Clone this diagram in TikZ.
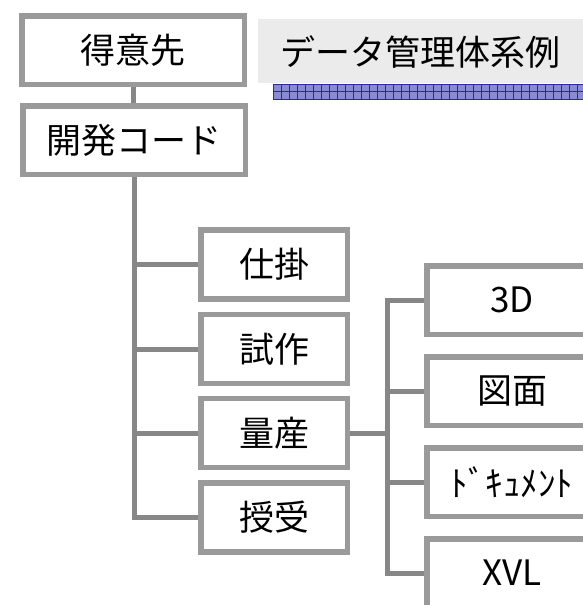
\documentclass[tikz,border=0pt]{standalone}
\usepackage{fontspec}
\newfontfamily\jp{Noto Sans CJK JP}
\definecolor{boxgray}{HTML}{9A9A9A}
\definecolor{linegray}{HTML}{878787}
\definecolor{titlegray}{HTML}{EBEBEB}
\definecolor{stripefill}{HTML}{8A8AD2}
\definecolor{stripeline}{HTML}{2A2AA0}
\tikzset{
  lbl/.style={font=\jp\fontsize{35}{35}\selectfont, text=black},
  boxa/.style={lbl, draw=boxgray, fill=white, line width=5.5pt, inner sep=0pt,
    minimum width=222.5pt, minimum height=68.5pt},
  boxb/.style={lbl, draw=boxgray, fill=white, line width=5.5pt, inner sep=0pt,
    minimum width=146.5pt, minimum height=69pt},
  boxc/.style={lbl, draw=boxgray, fill=white, line width=5.5pt, inner sep=0pt,
    minimum width=170.5pt, minimum height=68.5pt},
  conn/.style={draw=linegray, line width=5pt, line join=miter}
}
\begin{document}
\begin{tikzpicture}[x=1pt, y=-1pt]
\useasboundingbox (0,0) rectangle (583,605);
\clip (0,0) rectangle (583,605);
% title
\fill[titlegray] (258,19) rectangle (600,83);
\node[lbl, anchor=west, inner sep=0pt] (title) at (280,52) {データ管理体系例};
% stripe
\fill[stripefill] (273,84) rectangle (600,100);
\foreach \i in {0,...,41} {
  \draw[stripeline, line width=0.8pt] ({273+8*\i},84) -- ({273+8*\i},100);
}
\draw[stripeline, line width=0.8pt] (273,84.5) -- (600,84.5);
\draw[stripeline, line width=0.8pt] (273,91.5) -- (600,91.5);
\draw[stripeline, line width=0.8pt] (273,99.5) -- (600,99.5);
% connectors first (behind boxes)
\coordinate (sub) at (387.5,433);
% boxes
\node[boxa] (tok) at (133,50) {得意先};
\node[boxa] (kai) at (134,140) {開発コード};
\node[boxb] (shi) at (274,264.5) {仕掛};
\node[boxb] (shisaku) at (274,349) {試作};
\node[boxb] (ryo) at (274,433) {量産};
\node[boxb] (ju) at (274,517.5) {授受};
\node[boxc] (d3) at (512,300) {3D};
\node[boxc] (zu) at (512,391) {図面};
\node[boxc] (doc) at (512,482) {ﾄﾞｷｭﾒﾝﾄ};
\node[boxc] (xvl) at (512,573) {XVL};
% connectors
\begin{scope}[on background layer/.try]
\end{scope}
\draw[conn] (tok.south) -- (tok.south |- kai.north);
\draw[conn] (kai.south) |- (ju.west);
\draw[conn] (shi.west) -- (shi.west -| kai.south);
\draw[conn] (shisaku.west) -- (shisaku.west -| kai.south);
\draw[conn] (ryo.west) -- (ryo.west -| kai.south);
\draw[conn] (ryo.east) -- (sub);
\draw[conn] (d3.west) -| (sub);
\draw[conn] (sub) |- (xvl.west);
\draw[conn] (zu.west) -- (zu.west -| sub);
\draw[conn] (doc.west) -- (doc.west -| sub);
\end{tikzpicture}
\end{document}
